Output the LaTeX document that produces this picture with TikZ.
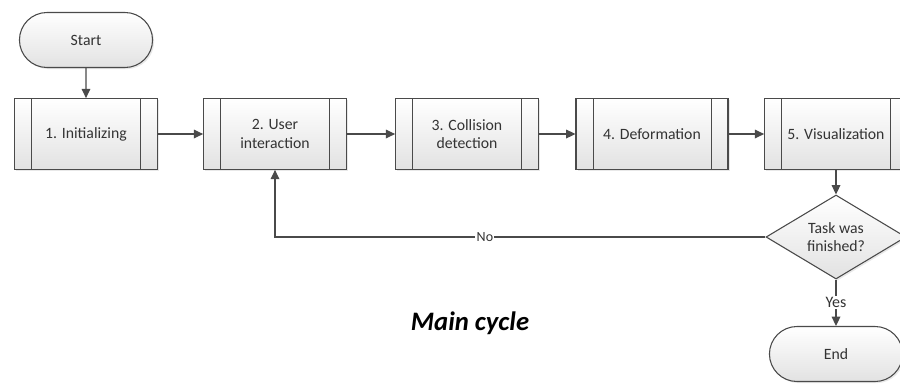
\documentclass[tikz,border=0pt]{standalone}
\usepackage{fontspec}
\setmainfont{Carlito}
\usepackage{tikz}
\usetikzlibrary{arrows.meta}
\usetikzlibrary{shapes.geometric}
\usetikzlibrary{shapes.misc}
\usetikzlibrary{shadows}

\definecolor{linegray}{HTML}{4A4A4A}
\definecolor{boxgray}{HTML}{E2E2E2}
\definecolor{textgray}{HTML}{333333}

\tikzset{
  blockbase/.style={draw=linegray, line width=0.8pt, top color=white, bottom color=boxgray,
    text=textgray, font=\fontsize{11.8}{13.8}\selectfont, align=center,
    drop shadow={shadow xshift=1.2pt, shadow yshift=-1.2pt, opacity=0.18}},
  terminal/.style={blockbase, rounded rectangle, minimum width=106.5pt, minimum height=41.25pt},
  process/.style={blockbase, rectangle, minimum width=107pt, minimum height=53pt,
    path picture={
      \draw[linegray, line width=0.7pt]
        ([xshift=12.75pt]path picture bounding box.north west) -- ([xshift=12.75pt]path picture bounding box.south west)
        ([xshift=-12.75pt]path picture bounding box.north east) -- ([xshift=-12.75pt]path picture bounding box.south east);
    }},
  decision/.style={blockbase, diamond, aspect=1.7, inner sep=0pt, minimum width=105pt, minimum height=63pt},
  flow/.style={draw=linegray, line width=0.9pt, -{Triangle[length=7pt,width=6.5pt]}},
  flowlabel/.style={fill=white, inner sep=1pt, text=textgray}
}

\begin{document}
\begin{tikzpicture}[x=0.75pt,y=-0.75pt]
      \useasboundingbox (0,0) rectangle (900,383);
      \clip (0,0) rectangle (900,383);
      \node[terminal] (start) at (86,40) {Start};
      \node[process] (init) at (86,134) {1. Initializing};
      \node[process] (user) at (275,134) {2. User\\interaction};
      \node[process] (coll) at (467,134) {3. Collision\\detection};
      \node[process, minimum width=114pt] (deform) at (652,134) {4. Deformation};
      \node[process] (vis) at (836,134) {5. Visualization};
      \node[decision] (done) at (836,237) {Task was\\finished?};
      \node[terminal] (end) at (836,354) {End};
      \node[font=\fontsize{20}{24}\selectfont\bfseries\itshape] (title) at (470,323) {Main cycle};
      \draw[flow] (start) -- (init);
      \draw[flow] (init) -- (user);
      \draw[flow] (user) -- (coll);
      \draw[flow] (coll) -- (deform);
      \draw[flow] (deform) -- (vis);
      \draw[flow] (vis) -- (done);
      \draw[flow] (done.west) -| node[flowlabel, pos=0.286, font=\fontsize{10.5}{12}\selectfont] {No} (user.south);
      \draw[flow] (done.south) -- node[flowlabel, font=\fontsize{12}{14}\selectfont] {Yes} (end.north);
    \end{tikzpicture}
\end{document}
